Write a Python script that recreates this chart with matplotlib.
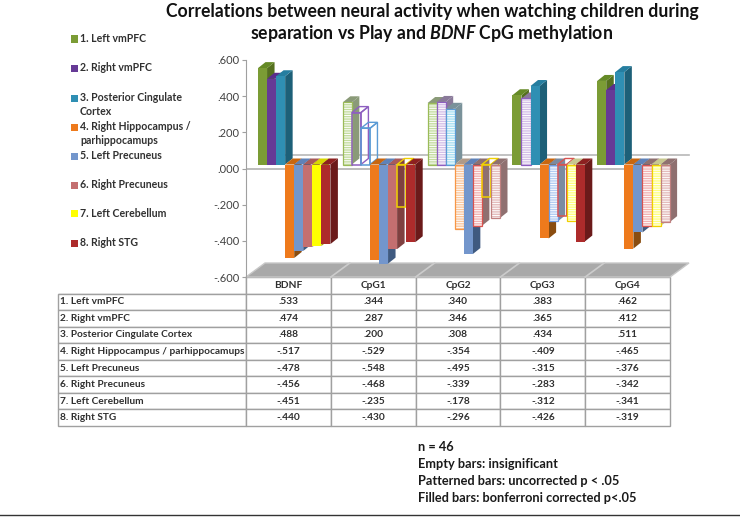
import matplotlib
matplotlib.use("Agg")
import matplotlib.pyplot as plt
from matplotlib.patches import Polygon, Rectangle
from matplotlib.lines import Line2D

plt.rcParams['font.family'] = ['Lato', 'DejaVu Sans']
plt.rcParams['hatch.linewidth'] = 0.7
plt.rcParams['mathtext.fontset'] = 'custom'
plt.rcParams['mathtext.it'] = 'Lato:italic:bold'
plt.rcParams['mathtext.bf'] = 'Lato:bold'

categories = ["BDNF", "CpG1", "CpG2", "CpG3", "CpG4"]
regions = ["1. Left vmPFC", "2. Right vmPFC", "3. Posterior Cingulate Cortex",
           "4. Right Hippocampus / parhippocamups", "5. Left Precuneus",
           "6. Right Precuneus", "7. Left Cerebellum", "8. Right STG"]
legend_labels = ["1. Left vmPFC", "2. Right vmPFC", "3. Posterior Cingulate\nCortex",
                 "4. Right Hippocampus /\nparhippocamups", "5. Left Precuneus",
                 "6. Right Precuneus", "7. Left Cerebellum", "8. Right STG"]

left_vmpfc = [.533, .344, .340, .383, .462]
right_vmpfc = [.474, .287, .346, .365, .412]
post_cing = [.488, .200, .308, .434, .511]
right_hipp = [-.517, -.529, -.354, -.409, -.465]
left_prec = [-.478, -.548, -.495, -.315, -.376]
right_prec = [-.456, -.468, -.339, -.283, -.342]
left_cereb = [-.451, -.235, -.178, -.312, -.341]
right_stg = [-.440, -.430, -.296, -.426, -.319]
series = [left_vmpfc, right_vmpfc, post_cing, right_hipp, left_prec, right_prec, left_cereb, right_stg]

# F filled, P patterned, E empty; one string per region, one letter per category
styles = ["FPPFF", "FEPPF", "FEPFF", "FFPFF", "FFFPF", "FFPEP", "FEEPP", "FFPFP"]

colors = ['#7b9c35', '#663a96', '#2f8fb3', '#ee7a1c', '#7396cc', '#c46f70', '#ffff00', '#ad2b2b']
side_colors = ['#55701f', '#4a2670', '#1d6078', '#8a4d10', '#3f5a80', '#7f4040', '#a5a500', '#6b1a1a']
top_colors = ['#658a26', '#5a2d8c', '#257ea0', '#c8660f', '#5f82b8', '#a85a5a', '#d8d800', '#8c2020']
pat_colors = ['#c4dca0', '#d4bfe8', '#a8e0f2', '#fac8a0', '#b4cdf2', '#f2b4b4', '#ffff80', '#e4bcbc']
edge_colors = ['#9bbb59', '#8e5fc0', '#5b9bd5', '#f79646', '#6f9be0', '#d9534f', '#f0d000', '#c08080']
pat_side = ['#8a9a78', '#8a7a9a', '#7a929a', '#b09a88', '#7a8aa0', '#8f7070', '#c8c890', '#8f7070']

W, H = 740, 519
fig = plt.figure(figsize=(W / 100, H / 100), dpi=100, facecolor='white')

def rect(l, t, r, b):
    return [l / W, 1 - b / H, (r - l) / W, (b - t) / H]

# data table (drawn first so the chart's tick labels stay above it)
tax = fig.add_axes(rect(58, 277, 670, 426))
tax.axis('off')
cell_text = [[""] + categories]
for j, name in enumerate(regions):
    row = [name]
    for v in series[j]:
        row.append(("-" if v < 0 else "") + f"{abs(v):.3f}"[1:])
    cell_text.append(row)
col_w = [188 / 612] + [84.8 / 612] * 5
tbl = tax.table(cellText=cell_text, colWidths=col_w, bbox=[0, 0, 1, 1], cellLoc='center')
tbl.auto_set_font_size(False)
tbl.set_fontsize(7.3)
for (r, c), cell in tbl.get_celld().items():
    cell.set_edgecolor('#a0a0a0')
    cell.set_linewidth(1)
    cell.get_text().set_color('#303030')
    cell.get_text().set_fontweight('bold')
    if c == 0:
        cell.get_text().set_ha('left')
        cell.PAD = .012
    if r == 0 and c == 0:
        cell.visible_edges = 'BR'
        cell.set_facecolor('none')

ax = fig.add_axes(rect(246, 60, 670, 277))
ax.set_xlim(0, 5)
ax.set_ylim(-.6, .6)
ax.patch.set_alpha(0)
for s in ['top', 'right', 'bottom']:
    ax.spines[s].set_visible(False)
ax.spines['left'].set_color('#a0a0a0')
ax.set_xticks([])
ticks = [.6, .4, .2, 0, -.2, -.4, -.6]
ax.set_yticks(ticks)
ax.set_yticklabels([".600", ".400", ".200", ".000", "-.200", "-.400", "-.600"],
                   fontsize=8, color='#404040')
ax.tick_params(axis='y', length=3, color='#a0a0a0', pad=2)

px = 5 / 424        # one pixel in x data units
py = 1.2 / 217      # one pixel in y data units
floor_dx, floor_dy = 19 * px, 14 * py
ax.axhline(0, xmin=0, xmax=1, color='#b0b0b0', lw=1.2, zorder=1)
ax.plot([floor_dx, 5 + floor_dx], [floor_dy, floor_dy], color='#b8b8b8', lw=1.2, zorder=1, clip_on=False)
ax.add_patch(Polygon([(0, -.6), (5, -.6), (5 + floor_dx, -.6 + floor_dy), (floor_dx, -.6 + floor_dy)],
                     closed=True, facecolor='#a9a9a9', edgecolor='#c8c8c8', lw=1, clip_on=False, zorder=1))
for i in range(1, 5):
    ax.plot([i, i + floor_dx], [-.6, -.6 + floor_dy], color='#cccccc', lw=1.2, zorder=1.1, clip_on=False)

base = 4 * py
bw = 9.05 * px
start = 12 * px
dx, dy = 7.5 * px, 6 * py

z = 2
for j, vals in enumerate(series):
    for i, v in enumerate(vals):
        kind = styles[j][i]
        l = i + start + j * bw
        r = l + bw
        end = base + v
        hi = max(base, end)
        side = [(r, base), (r + dx, base + dy), (r + dx, end + dy), (r, end)]
        top = [(l, hi), (l + dx, hi + dy), (r + dx, hi + dy), (r, hi)]
        if kind == 'F':
            ax.add_patch(Polygon(side, closed=True, facecolor=side_colors[j], lw=0, zorder=z, clip_on=False))
            ax.add_patch(Polygon(top, closed=True, facecolor=top_colors[j], lw=0, zorder=z, clip_on=False))
            ax.bar(l, v, bw, bottom=base, align='edge', color=colors[j], lw=0, zorder=z + .1, clip_on=False)
        elif kind == 'P':
            ax.add_patch(Polygon(side, closed=True, facecolor=pat_side[j], lw=0, zorder=z, clip_on=False))
            ax.add_patch(Polygon(top, closed=True, facecolor=pat_side[j], lw=0, zorder=z, clip_on=False))
            ax.bar(l, v, bw, bottom=base, align='edge', color=pat_colors[j], edgecolor='white',
                   hatch='-------', lw=0, zorder=z + .1, clip_on=False)
            ax.bar(l, v, bw, bottom=base, align='edge', fill=False, edgecolor=edge_colors[j],
                   lw=.9, zorder=z + .2, clip_on=False)
        else:
            for poly in (side, top):
                ax.add_patch(Polygon(poly, closed=True, fill=False, edgecolor=edge_colors[j], lw=1, zorder=z + .2, clip_on=False))
            ax.bar(l, v, bw, bottom=base, align='edge', fill=False, edgecolor=edge_colors[j],
                   lw=1.1, zorder=z + .2, clip_on=False)
        z += 1

# legend
legend_y = [39, 68, 98, 127, 156, 185, 214, 243]
for lab, yy, col in zip(legend_labels, legend_y, colors):
    fig.add_artist(Rectangle((71 / W, 1 - (yy + 3.5) / H), 7 / W, 7 / H, transform=fig.transFigure,
                             facecolor=col, edgecolor='none'))
    fig.text(80 / W, 1 - (yy - 6) / H, lab, fontsize=7.6, fontweight='bold', color='#303030',
             va='top', ha='left', linespacing=1.3)

# title
fig.text(432 / W, 1 - 12 / H, "Correlations between neural activity when watching children during",
         fontsize=12.7, fontweight='bold', ha='center', va='center', color='#111111')
fig.text(432 / W, 1 - 33 / H, r"separation vs Play and $\mathit{BDNF}$ CpG methylation",
         fontsize=12.7, fontweight='bold', ha='center', va='center', color='#111111')

# notes
notes = ["n = 46", "Empty bars: insignificant", "Patterned bars: uncorrected p < .05",
         "Filled bars: bonferroni corrected p<.05"]
for yy, t in zip([447, 464, 481, 498], notes):
    fig.text(418 / W, 1 - yy / H, t, fontsize=9.2, fontweight='bold', color='#1a1a1a', va='center', ha='left')

fig.add_artist(Line2D([0, 1], [1 - 515 / H, 1 - 515 / H], color='#333333', lw=1, transform=fig.transFigure))

fig.savefig("out.png", dpi=100)
